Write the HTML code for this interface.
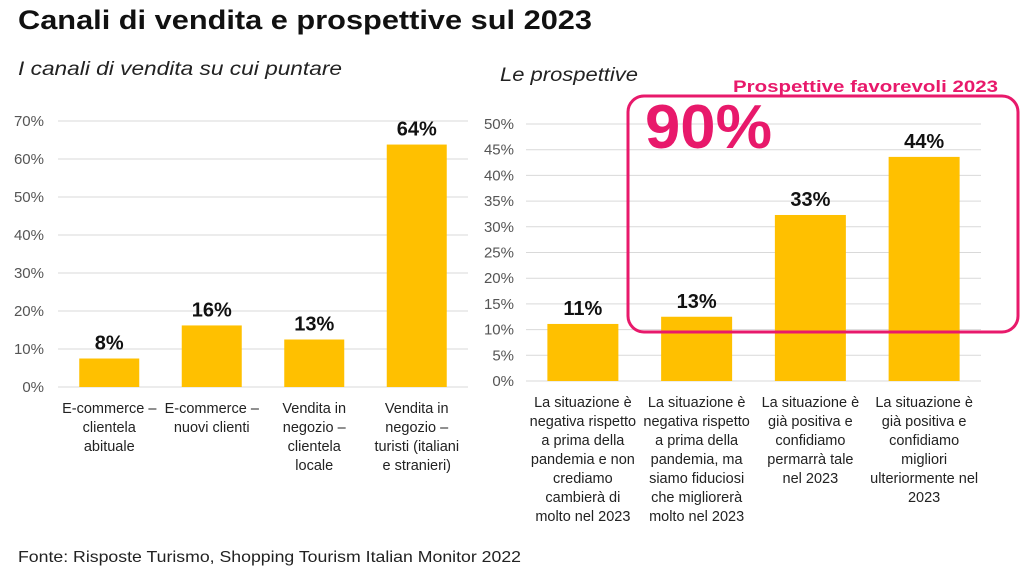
<!DOCTYPE html>
<html><head><meta charset="utf-8"><style>
body{margin:0;background:#fff;font-family:"Liberation Sans",sans-serif;}
svg text{font-family:"Liberation Sans",sans-serif;}
</style></head><body>
<svg width="1029" height="573" viewBox="0 0 1029 573">
<text x="18" y="29" font-size="27" font-weight="bold" fill="#111" textLength="574" lengthAdjust="spacingAndGlyphs">Canali di vendita e prospettive sul 2023</text>
<text x="18" y="75" font-size="19" font-style="italic" fill="#222" textLength="324" lengthAdjust="spacingAndGlyphs">I canali di vendita su cui puntare</text>
<text x="500" y="81" font-size="19" font-style="italic" fill="#222" textLength="138" lengthAdjust="spacingAndGlyphs">Le prospettive</text>
<g id="left"></g>
<g id="right"></g>
<rect x="628" y="96" width="390" height="236" rx="16" fill="none" stroke="#e8196b" stroke-width="3"/>
<text x="733" y="92" font-size="17" font-weight="bold" fill="#e8196b" textLength="265" lengthAdjust="spacingAndGlyphs">Prospettive favorevoli 2023</text>
<text x="645" y="148" font-size="62" font-weight="bold" fill="#e8196b" textLength="127" lengthAdjust="spacingAndGlyphs">90%</text>
<text x="18" y="562" font-size="16" fill="#222" textLength="503" lengthAdjust="spacingAndGlyphs">Fonte: Risposte Turismo, Shopping Tourism Italian Monitor 2022</text>
</svg>
<script>
const leftCats=[["E-commerce –","clientela","abituale"],["E-commerce –","nuovi clienti"],["Vendita in","negozio –","clientela","locale"],["Vendita in","negozio –","turisti (italiani","e stranieri)"]];
const leftVals=[7.5,16.2,12.5,63.8];
const leftLabels=["8%","16%","13%","64%"];
const leftTicks=[0,10,20,30,40,50,60,70];
const rightCats=[["La situazione è","negativa rispetto","a prima della","pandemia e non","crediamo","cambierà di","molto nel 2023"],["La situazione è","negativa rispetto","a prima della","pandemia, ma","siamo fiduciosi","che migliorerà","molto nel 2023"],["La situazione è","già positiva e","confidiamo","permarrà tale","nel 2023"],["La situazione è","già positiva e","confidiamo","migliori","ulteriormente nel","2023"]];
const rightVals=[11.1,12.5,32.3,43.6];
const rightLabels=["11%","13%","33%","44%"];
const rightTicks=[0,5,10,15,20,25,30,35,40,45,50];
const NS="http://www.w3.org/2000/svg";
function mk(g,tag,attrs,txt){const e=document.createElementNS(NS,tag);for(const k in attrs)e.setAttribute(k,attrs[k]);if(txt!==undefined)e.textContent=txt;g.appendChild(e);return e;}
function draw(gid,cfg){
 const g=document.getElementById(gid);
 const y=v=>cfg.y0-(v/cfg.max)*(cfg.y0-cfg.yTop);
 const cw=(cfg.x1-cfg.x0)/cfg.vals.length;
 cfg.ticks.forEach(t=>{
  const l=mk(g,"line",{x1:cfg.x0,x2:cfg.x1,y1:y(t),y2:y(t),stroke:"#d9d9d9","stroke-width":1});
  
  
  const tx=mk(g,"text",{x:cfg.x0-cfg.tickGap,y:y(t)+5,"font-size":15,fill:"#555","text-anchor":"end"},t+"%");
  
  
 });
 cfg.vals.forEach((v,i)=>{
  const cx=cfg.x0+cw*(i+0.5);
  const b=mk(g,"rect",{x:cx-cfg.bw/2,y:y(v),width:cfg.bw,height:cfg.y0-y(v),fill:"#ffc000"});
  
  
  const lb=mk(g,"text",{x:cx,y:y(v)-9,"font-size":20,"font-weight":"bold",fill:"#111","text-anchor":"middle"},cfg.labels[i]);
  
  
  cfg.cats[i].forEach((line,j)=>{
   const c=mk(g,"text",{x:cx,y:cfg.y0+26+j*19,"font-size":14.5,fill:"#222","text-anchor":"middle"},line);
   
   
  });
 });
}
draw("left",{x0:58,x1:468,y0:387,yTop:121,max:70,bw:60,tickGap:14,vals:leftVals,labels:leftLabels,cats:leftCats,ticks:leftTicks});
draw("right",{x0:526,x1:981,y0:381,yTop:124,max:50,bw:71,tickGap:12,vals:rightVals,labels:rightLabels,cats:rightCats,ticks:rightTicks});
</script>
</body></html>
